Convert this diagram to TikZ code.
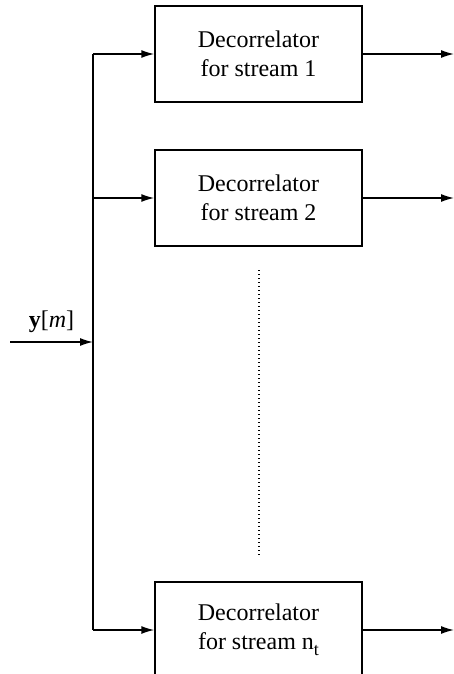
\documentclass[tikz,border=0pt]{standalone}
\usepackage{fontspec}
\setmainfont{Liberation Serif}
\usetikzlibrary{arrows.meta,positioning,calc}
\tikzset{
  sigarr/.style={-{Latex[length=6.5pt,width=4pt]}, line width=0.7pt},
  decbox/.style={draw, line width=0.7pt, align=center, inner sep=2pt},
}

\begin{document}
\begin{tikzpicture}[
  x=0.5pt, y=-0.5pt,
  font=\fontsize{12}{14.5}\selectfont,
  block/.style={decbox, minimum width=103.5pt, minimum height=48pt},
  dots/.style={line width=0.6pt, dash pattern=on 0.6pt off 1.4pt},
]
  \useasboundingbox (0,0) rectangle (454,674);
  \clip (0,0) rectangle (454,674);

  \node[block] (dec1) at (258.5,54)  {Decorrelator\\for stream 1};
  \node[block] (dec2) at (258.5,198) {Decorrelator\\for stream 2};
  \node[block] (decn) at (258.5,630) {Decorrelator\\for stream n\raisebox{-0.55ex}{\fontsize{9}{9}\selectfont t}};

  \coordinate (in)    at (10,342);
  \coordinate (split) at (93,342);
  \coordinate (out)   at (454,342);
  \coordinate (dtop)  at (259,270);
  \coordinate (dbot)  at (259,556);

  \draw[sigarr] (in) -- node[above=1pt] {\textbf{y}[\textit{m}]} (split);
  \draw[line width=0.7pt] (split |- dec1.west) -- (split |- decn.west);
  \foreach \b in {dec1,dec2,decn} {
    \draw[sigarr] (split |- \b.west) -- (\b.west);
    \draw[sigarr] (\b.east) -- (\b.east -| out);
  }

  \draw[dots] (dtop) -- (dbot);
\end{tikzpicture}
\end{document}
